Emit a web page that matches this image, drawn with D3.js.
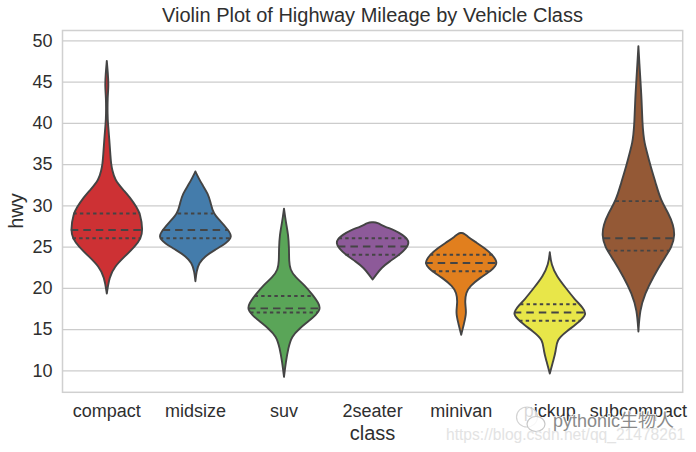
<!DOCTYPE html>
<html>
<head>
<meta charset="utf-8">
<script src="https://cdn.jsdelivr.net/npm/d3@7"></script>
<style>
  html, body { margin: 0; padding: 0; background: #fff; }
  svg { display: block; }
  text { font-family: "Liberation Sans", Arial, sans-serif; fill: #2f2f2f; }
</style>
</head>
<body>
<svg id="chart" width="696" height="452"></svg>
<script>
const width = 696
const height = 452

const classes = ['compact', 'midsize', 'suv', '2seater', 'minivan', 'pickup', 'subcompact']
const fills = ['#cd3134', '#447cab', '#5aa558', '#8d5a99', '#e17f1e', '#e8e649', '#945936']
const yTicks = [10, 15, 20, 25, 30, 35, 40, 45, 50]

// quartiles
const q1 = [26, 26, 17, 24, 22, 16, 24.5]
const medians = [27, 27, 17.5, 25, 23, 17, 26]
const q3 = [29, 29, 19, 26, 24, 18, 30.5]

// violin outlines: hwy value and density relative to the widest point
const compactHwy = [47.5, 46, 44.5, 43, 41, 40, 38, 36, 35, 34.3, 33.1, 31.9, 30.7, 29.8, 29, 27, 26, 25, 23.8, 22.6, 21.3, 19.3]
const compactDensity = [0, .03, .05, .02, .02, .03, .07, .1, .12, .15, .22, .45, .69, .82, .93, 1, .95, .78, .5, .22, .07, 0]
const midsizeHwy = [34.1, 33.3, 32.5, 31.4, 30.4, 29, 28, 27, 26.2, 25.4, 24.6, 23.8, 23, 22, 20.8]
const midsizeDensity = [0, .09, .19, .35, .42, .49, .72, .91, 1.03, .86, .54, .26, .1, .03, 0]
const suvHwy = [29.6, 28, 26.4, 24.8, 23.2, 22.2, 21.3, 20.3, 19.1, 18.1, 17.4, 16.7, 15.9, 15.1, 14.1, 12.7, 11, 9.2]
const suvDensity = [0, .05, .12, .14, .14, .17, .31, .58, .8, .97, 1.01, .89, .67, .44, .21, .12, .05, 0]
const twoSeaterHwy = [27.95, 27.9, 27.4, 27, 26.4, 25.9, 25.4, 24.8, 24, 23.2, 22.4, 21.6, 21]
const twoSeaterDensity = [0, .13, .33, .61, .84, .97, 1.01, .94, .75, .47, .24, .1, 0]
const minivanHwy = [26.65, 26.6, 26.2, 25.6, 24.8, 24, 23, 22.2, 21.2, 20.2, 19.4, 18.2, 17, 15.7, 14.3]
const minivanDensity = [0, .08, .18, .38, .66, .87, 1.03, .87, .52, .24, .13, .1, .15, .08, 0]
const pickupHwy = [24.3, 22.8, 21.4, 20, 18.6, 17.6, 16.8, 15.9, 14.7, 13.7, 12.3, 11.1, 9.6]
const pickupDensity = [0, .04, .19, .44, .69, .92, 1.03, .83, .46, .19, .17, .09, 0]
const subcompactHwy = [49.3, 47, 45.6, 42.8, 40, 38.5, 37.6, 36.7, 34.7, 32.7, 30.6, 29, 27.6, 26.4, 25, 23.4, 21.3, 19.3, 17.3, 14.7]
const subcompactDensity = [0, .03, .05, .09, .11, .14, .17, .22, .34, .48, .62, .84, .97, 1.01, .94, .69, .41, .18, .04, 0]

const hwyByClass = [compactHwy, midsizeHwy, suvHwy, twoSeaterHwy, minivanHwy, pickupHwy, subcompactHwy]
const densityByClass = [compactDensity, midsizeDensity, suvDensity, twoSeaterDensity, minivanDensity, pickupDensity, subcompactDensity]

const plot = {left: 62.5, right: 682.7, top: 30.5, bottom: 392.3}

const x = d3.scaleBand().domain(classes).range([plot.left, plot.right])
const y = d3.scaleLinear().domain([7.33, 51.19]).range([plot.bottom, plot.top])
const w = d3.scaleLinear().domain([0, 1]).range([0, 36])

const svg = d3.select('#chart')

//frame and grid
svg.append('rect')
  .attr('x', plot.left).attr('y', plot.top)
  .attr('width', plot.right - plot.left).attr('height', plot.bottom - plot.top)
  .attr('fill', '#fff').attr('stroke', '#d0d0d0').attr('stroke-width', 1.5)

const yAxis = svg.append('g')
  .attr('transform', `translate(${plot.left},0)`)
  .call(d3.axisLeft(y).tickValues(yTicks).tickSize(-(plot.right - plot.left)).tickPadding(10))
yAxis.select('.domain').remove()
yAxis.selectAll('line').attr('stroke', '#cccccc').attr('stroke-width', 1.3)
yAxis.selectAll('text').style('font-size', '18px').attr('fill', '#2f2f2f')

const xAxis = svg.append('g')
  .attr('transform', `translate(0,${plot.bottom})`)
  .call(d3.axisBottom(x).tickSize(0).tickPadding(12))
xAxis.select('.domain').remove()
xAxis.selectAll('text').style('font-size', '18px').attr('fill', '#2f2f2f')

//violins
const area = d3.area()
  .y(d => y(d.hwy))
  .x0(d => -w(d.density))
  .x1(d => w(d.density))
  .curve(d3.curveBasis)

function halfWidthAt(hwy, density, value) {
  // outlines run from high to low hwy
  const i = hwy.findIndex(h => h <= value)
  if (i <= 0) return density[Math.max(i, 0)]
  const t = (hwy[i - 1] - value) / (hwy[i - 1] - hwy[i])
  return density[i - 1] + t * (density[i] - density[i - 1])
}

classes.forEach((name, i) => {
  const hwy = hwyByClass[i]
  const density = densityByClass[i]
  const points = hwy.map((h, j) => ({hwy: h, density: density[j]}))
  const g = svg.append('g')
    .attr('transform', `translate(${x(name) + x.bandwidth() / 2},0)`)

  g.append('path')
    .attr('d', area(points))
    .attr('fill', fills[i])
    .attr('stroke', '#444444')
    .attr('stroke-width', 1.9)
    .attr('stroke-linejoin', 'round')

  const inner = [
    {value: q1[i], dash: '3.4 3.2'},
    {value: medians[i], dash: '7.5 5'},
    {value: q3[i], dash: '3.4 3.2'}
  ]
  g.selectAll('line').data(inner).enter().append('line')
    .attr('x1', d => -w(Math.min(1, halfWidthAt(hwy, density, d.value))))
    .attr('x2', d => w(Math.min(1, halfWidthAt(hwy, density, d.value))))
    .attr('y1', d => y(d.value))
    .attr('y2', d => y(d.value))
    .attr('stroke', '#444444')
    .attr('stroke-width', 1.9)
    .attr('stroke-dasharray', d => d.dash)
})

//titles
svg.append('text').attr('x', 372.5).attr('y', 22).attr('text-anchor', 'middle')
  .style('font-size', '20px').text('Violin Plot of Highway Mileage by Vehicle Class')
svg.append('text').attr('x', 372.5).attr('y', 440).attr('text-anchor', 'middle')
  .style('font-size', '20px').text('class')
svg.append('text').attr('transform', 'translate(23,211) rotate(-90)').attr('text-anchor', 'middle')
  .style('font-size', '20px').text('hwy')

//watermark over the tick labels
const mark = svg.append('g')
mark.append('ellipse').attr('cx', 527).attr('cy', 417).attr('rx', 10.5).attr('ry', 10)
  .attr('fill', '#fff').attr('fill-opacity', .82).attr('stroke', '#d4d4d4').attr('stroke-width', 1.2)
mark.append('ellipse').attr('cx', 536).attr('cy', 424).attr('rx', 9).attr('ry', 7.5)
  .attr('fill', '#fff').attr('fill-opacity', .82).attr('stroke', '#c8c8c8').attr('stroke-width', 1.2)
mark.append('text').attr('x', 553).attr('y', 427)
  .style('font-family', '"Liberation Sans", "Noto Sans CJK SC", sans-serif')
  .style('font-size', '18px').style('fill', '#8a8a8a')
  .style('stroke', '#fff').style('stroke-width', 1.5).style('paint-order', 'stroke')
  .text('pythonic生物人')
mark.append('text').attr('x', 446).attr('y', 440)
  .style('font-size', '15.6px').style('fill', '#e3e3e3')
  .text('https://blog.csdn.net/qq_21478261')
</script>
</body>
</html>
